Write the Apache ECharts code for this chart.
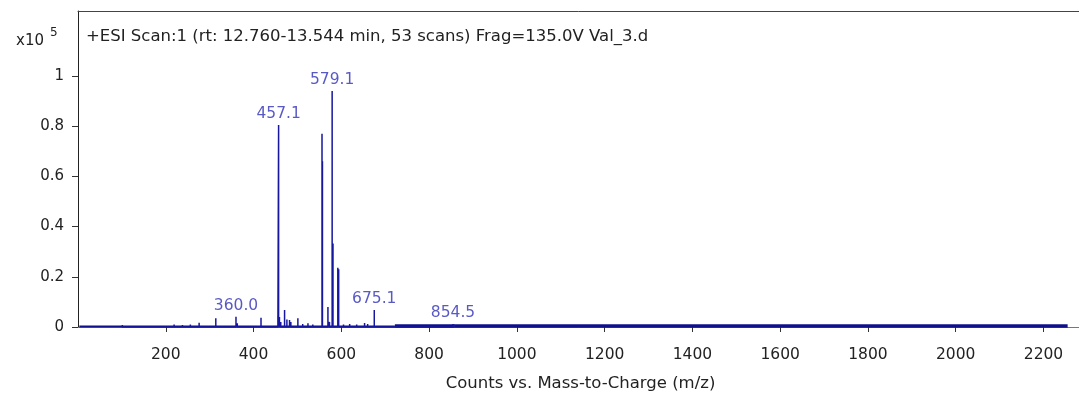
<!DOCTYPE html>
<html>
<head>
<meta charset="utf-8">
<script src="https://cdn.jsdelivr.net/npm/echarts@6/dist/echarts.min.js"></script>
<style>
html, body { margin: 0; padding: 0; background: #fff; }
#main { width: 1079px; height: 393px; }
</style>
</head>
<body>
<div id="main"></div>
<script>
// peaks: m/z and intensity (x10^5 counts)
var peakMz = [101, 219, 238, 256, 276, 314, 360.0, 363, 417, 455.5, 457.1, 459, 462, 470.7, 476, 482, 485, 501, 512, 524, 535,
              556, 557, 569.5, 573, 579.1, 581, 592, 594, 605, 619, 635, 653, 660, 675.1, 854.5, 858];
var peakHeight = [0.008, 0.01, 0.008, 0.01, 0.017, 0.035, 0.041, 0.015, 0.037, 0.045, 0.805, 0.04, 0.02, 0.068, 0.03, 0.028, 0.02, 0.035, 0.012, 0.015, 0.01,
                  0.77, 0.66, 0.08, 0.02, 0.94, 0.333, 0.236, 0.23, 0.01, 0.012, 0.01, 0.016, 0.012, 0.068, 0.012, 0.008];

// labelled peaks
var labelMz = [360.0, 457.1, 579.1, 675.1, 854.5];
var labelHeight = [0.041, 0.805, 0.94, 0.068, 0.012];

// baseline noise level
var noiseLowMz = [3, 722];
var noiseLow = [0.002, 0.002];
var noiseHighMz = [722, 2255];
var noiseHigh = [0.004, 0.004];

var yTicks = [0, 0.2, 0.4, 0.6, 0.8, 1];

var myChart = echarts.init(document.getElementById('main'));

var stickData = [];
for (var i = 0; i < peakMz.length; i++) {
    stickData.push([peakMz[i], 0], [peakMz[i], peakHeight[i]], [peakMz[i], 0]);
}
function pairs(xs, ys) {
    return xs.map(function (x, i) { return [x, ys[i]]; });
}

var font = 'DejaVu Sans';

option = {
    animation: false,
    title: {
        text: '+ESI Scan:1 (rt: 12.760-13.544 min, 53 scans) Frag=135.0V Val_3.d',
        left: 81,
        top: 23,
        textStyle: { fontFamily: font, fontSize: 16.5, fontWeight: 'normal', color: '#222' }
    },
    graphic: [
        { type: 'text', left: 16, top: 34, style: { text: 'x10', font: '15px "DejaVu Sans"', fill: '#222' } },
        { type: 'text', left: 50, top: 27, style: { text: '5', font: '12px "DejaVu Sans"', fill: '#222' } }
    ],
    grid: {
        left: 78,
        right: -4,
        top: 11,
        bottom: 66,
        outerBoundsMode: 'none'
    },
    xAxis: [{
        type: 'value',
        min: 0,
        max: 2290,
        interval: 200,
        offset: 2,
        name: 'Counts vs. Mass-to-Charge (m/z)',
        nameLocation: 'middle',
        nameGap: 46,
        nameTextStyle: { fontFamily: font, fontSize: 16.5, color: '#222' },
        axisLine: { lineStyle: { color: '#777', width: 1 } },
        axisTick: { length: 5, lineStyle: { color: '#333' } },
        axisLabel: {
            showMinLabel: false, showMaxLabel: false, margin: 18,
            formatter: function (v) { return String(v); },
            fontFamily: font, fontSize: 15.5, color: '#222'
        },
        splitLine: { show: false }
    }, {
        type: 'value',
        position: 'top',
        min: 0,
        max: 2290,
        axisLine: { show: true, lineStyle: { color: '#444', width: 1 } },
        axisTick: { show: false },
        axisLabel: { show: false },
        splitLine: { show: false }
    }],
    yAxis: {
        type: 'value',
        min: 0,
        max: 1.259,
        axisLine: { show: true, lineStyle: { color: '#222' } },
        axisTick: { show: true, length: 6, customValues: yTicks, lineStyle: { color: '#333' } },
        axisLabel: { customValues: yTicks, margin: 14, fontFamily: font, fontSize: 15, color: '#222' },
        splitLine: { show: false }
    },
    series: [
        {
            name: 'baseline',
            type: 'line',
            symbol: 'none',
            data: pairs(noiseLowMz, noiseLow),
            lineStyle: { color: '#10108c', width: 2 }
        },
        {
            name: 'baseline2',
            type: 'line',
            symbol: 'none',
            data: pairs(noiseHighMz, noiseHigh),
            lineStyle: { color: '#10108c', width: 3.5 }
        },
        {
            name: 'spectrum',
            type: 'line',
            symbol: 'none',
            data: stickData,
            lineStyle: { color: '#1616a0', width: 1.5 }
        },
        {
            name: 'labels',
            type: 'scatter',
            symbolSize: 0,
            data: pairs(labelMz, labelHeight),
            label: {
                show: true,
                position: 'top',
                distance: 3,
                formatter: function (p) { return p.value[0].toFixed(1); },
                fontFamily: font,
                fontSize: 15.5,
                color: '#3030b8'
            }
        }
    ]
};

myChart.setOption(option);
</script>
</body>
</html>
